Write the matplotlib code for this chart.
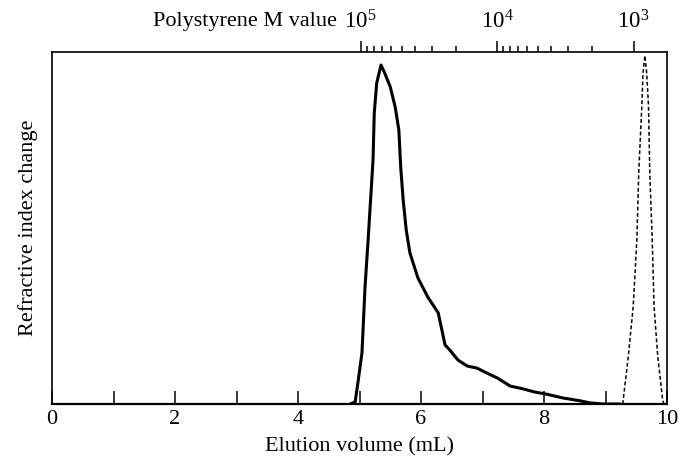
import numpy as np
import matplotlib
matplotlib.use("Agg")
import matplotlib.pyplot as plt

plt.rcParams['font.family'] = ['Liberation Serif', 'DejaVu Serif']
plt.rcParams['mathtext.fontset'] = 'custom'
plt.rcParams['mathtext.rm'] = 'Liberation Serif'
plt.rcParams['mathtext.it'] = 'Liberation Serif:italic'

# sample peak (solid)
sample_volume = [4.85, 4.93, 4.98, 5.04, 5.09, 5.14, 5.22, 5.24, 5.28, 5.35,
                 5.41, 5.50, 5.58, 5.64, 5.67, 5.71, 5.76, 5.82, 5.95, 6.11, 6.28,
                 6.34, 6.39, 6.47, 6.60, 6.75, 6.91, 7.07, 7.24, 7.45, 7.66, 7.85,
                 8.04, 8.31, 8.59, 8.75, 8.96, 9.24]
sample_signal = [0.0, 0.006, 0.068, 0.145, 0.332, 0.466, 0.693, 0.827, 0.912, 0.963,
                 0.940, 0.901, 0.844, 0.778, 0.673, 0.580, 0.494, 0.429, 0.358, 0.304, 0.259,
                 0.210, 0.168, 0.153, 0.125, 0.108, 0.102, 0.088, 0.074, 0.051, 0.043, 0.034,
                 0.028, 0.017, 0.009, 0.003, 0.0, 0.0]

# solvent peak (dashed)
solvent_volume = [9.28, 9.37, 9.45, 9.51, 9.54, 9.59, 9.61, 9.64,
                  9.67, 9.70, 9.72, 9.76, 9.79, 9.85, 9.93, 9.95]
solvent_signal = [0.0, 0.134, 0.276, 0.466, 0.656, 0.844, 0.940, 0.99,
                  0.940, 0.844, 0.656, 0.466, 0.276, 0.134, 0.011, 0.0]

# polystyrene calibration: elution volume of 1e5, 1e4, 1e3
cal_volume = [5.02, 7.23, 9.46]
cal_logM = [5, 4, 3]
slope, intercept = np.polyfit(cal_volume, cal_logM, 1)


def vol_to_M(v):
    return 10 ** (slope * np.asarray(v, dtype=float) + intercept)


def M_to_vol(m):
    return (np.log10(np.asarray(m, dtype=float)) - intercept) / slope


fig = plt.figure(figsize=(6.79, 4.65), dpi=100)
ax = fig.add_axes([52 / 679, 61 / 465, 615 / 679, 352 / 465])

ax.plot(sample_volume, sample_signal, color='black', lw=2.2, solid_capstyle='round',
        solid_joinstyle='round')
ax.plot(solvent_volume, solvent_signal, color='black', lw=1.1, dashes=(2.5, 1.6))

ax.set_xlim(0, 10)
ax.set_ylim(0, 1)
ax.set_xticks([0, 2, 4, 6, 8, 10])
ax.set_xticks([1, 3, 5, 7, 9], minor=True)
ax.tick_params(axis='x', which='both', direction='in', length=9.5, width=1.1,
               labelsize=16, pad=4, top=False)
ax.set_yticks([])
ax.set_xlabel('Elution volume (mL)', fontsize=16, labelpad=6)
ax.set_ylabel('Refractive index change', fontsize=16, labelpad=10)
for s in ax.spines.values():
    s.set_linewidth(1.2)
ax.spines['bottom'].set_linewidth(1.6)

# top axis: polystyrene molecular weight
top = ax.secondary_xaxis('top', functions=(vol_to_M, M_to_vol))
top.set_xticks([1e5, 1e4, 1e3])
top.set_xticklabels([r'$10^5$', r'$10^4$', r'$10^3$'])
minor_M = [m * d for m in (1e4, 1e3) for d in range(2, 10)]
top.set_xticks(minor_M, minor=True)
top.xaxis.set_minor_formatter(plt.NullFormatter())
top.tick_params(which='major', direction='out', length=8, width=1.1, labelsize=16.5, pad=5)
top.tick_params(which='minor', direction='out', length=4, width=1.1)
top.spines['top'].set_visible(False)

ax.annotate('Polystyrene M value', xy=(cal_volume[0], 1), xycoords=('data', 'axes fraction'),
            xytext=(-17, 19), textcoords='offset points', ha='right', va='baseline',
            fontsize=16)

fig.savefig('out.png', dpi=100)
